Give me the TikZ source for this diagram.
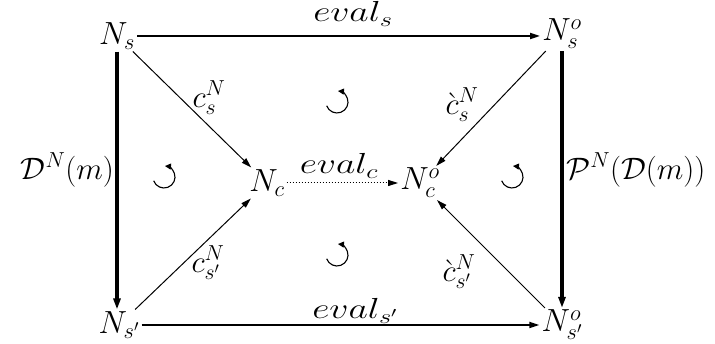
\RequirePackage{fix-cm}
\documentclass[tikz,border=0pt]{standalone}
\usetikzlibrary{arrows.meta}
\begin{document}
\begin{tikzpicture}[x=1pt,y=1pt,
  every node/.style={font=\fontsize{32}{36}\selectfont, inner sep=2pt},
  lbl/.style={font=\fontsize{31}{35}\selectfont, inner sep=0pt},
  evl/.style={font=\fontsize{29}{33}\selectfont, inner sep=0pt, xscale=1.3},
  tip/.style={-{Triangle[length=10pt,width=6pt]}},
  thin arrow/.style={tip, line width=1pt},
  mid arrow/.style={tip, line width=1.8pt},
  thick arrow/.style={-{Triangle[length=11pt,width=7pt]}, line width=3.2pt},
  cyc/.style={line width=1.1pt, -{Triangle[length=6pt,width=6pt]}}]
\useasboundingbox (0,0) rectangle (715,344);
\node (Ns)   at (117,308) {$N_s$};
\node (Nso)  at (562,310) {$N_s^o$};
\node (Nsp)  at (119,19)  {$N_{s'}$};
\node (Nspo) at (562,19)  {$N_{s'}^o$};
\node (Nc)   at (267,161) {$N_c$};
\node (Nco)  at (420,161) {$N_c^o$};
% labels
\node[evl] (le1) at (353,330) {$eval_s$};
\node[evl] (le2) at (355,33)  {$eval_{s'}$};
\node[evl] (le3) at (339,178) {$eval_c$};
\node[lbl, anchor=east] (lD) at (114,174) {$\mathcal{D}^N(m)$};
\node[lbl, anchor=west] (lP) at (566,174) {$\mathcal{P}^N(\mathcal{D}(m))$};
\node[lbl] (l1) at (209,246) {$c_s^N$};
\node[lbl] (l2) at (462,239) {$\grave{c}_s^N$};
\node[lbl] (l3) at (208,81)  {$c_{s'}^N$};
\node[lbl] (l4) at (459,72)  {$\grave{c}_{s'}^N$};
% horizontal arrows
\draw[mid arrow] (Ns.east) -- (Nso.west |- Ns.east);
\draw[mid arrow] (Nsp.east) -- (Nspo.west |- Nsp.east);
\draw[tip, line width=1pt, dotted] (Nc.east) -- (Nco.west |- Nc.east);
% vertical arrows
\draw[thick arrow] (Ns.south) -- (Ns.south |- Nsp.north);
\draw[thick arrow] (Nso.south) -- (Nso.south |- Nspo.north);
% diagonals
\draw[thin arrow] (Ns) -- (Nc);
\draw[thin arrow] (Nso) -- (Nco);
\draw[thin arrow] (Nsp) -- (Nc);
\draw[thin arrow] (Nspo) -- (Nco);
% cycle symbols
\foreach \p in {(337,242),(164,167),(337,89),(512,167)}{
  \draw[cyc] \p ++(200:11pt) arc[start angle=200, end angle=445, radius=11pt];
}
\end{tikzpicture}
\end{document}
